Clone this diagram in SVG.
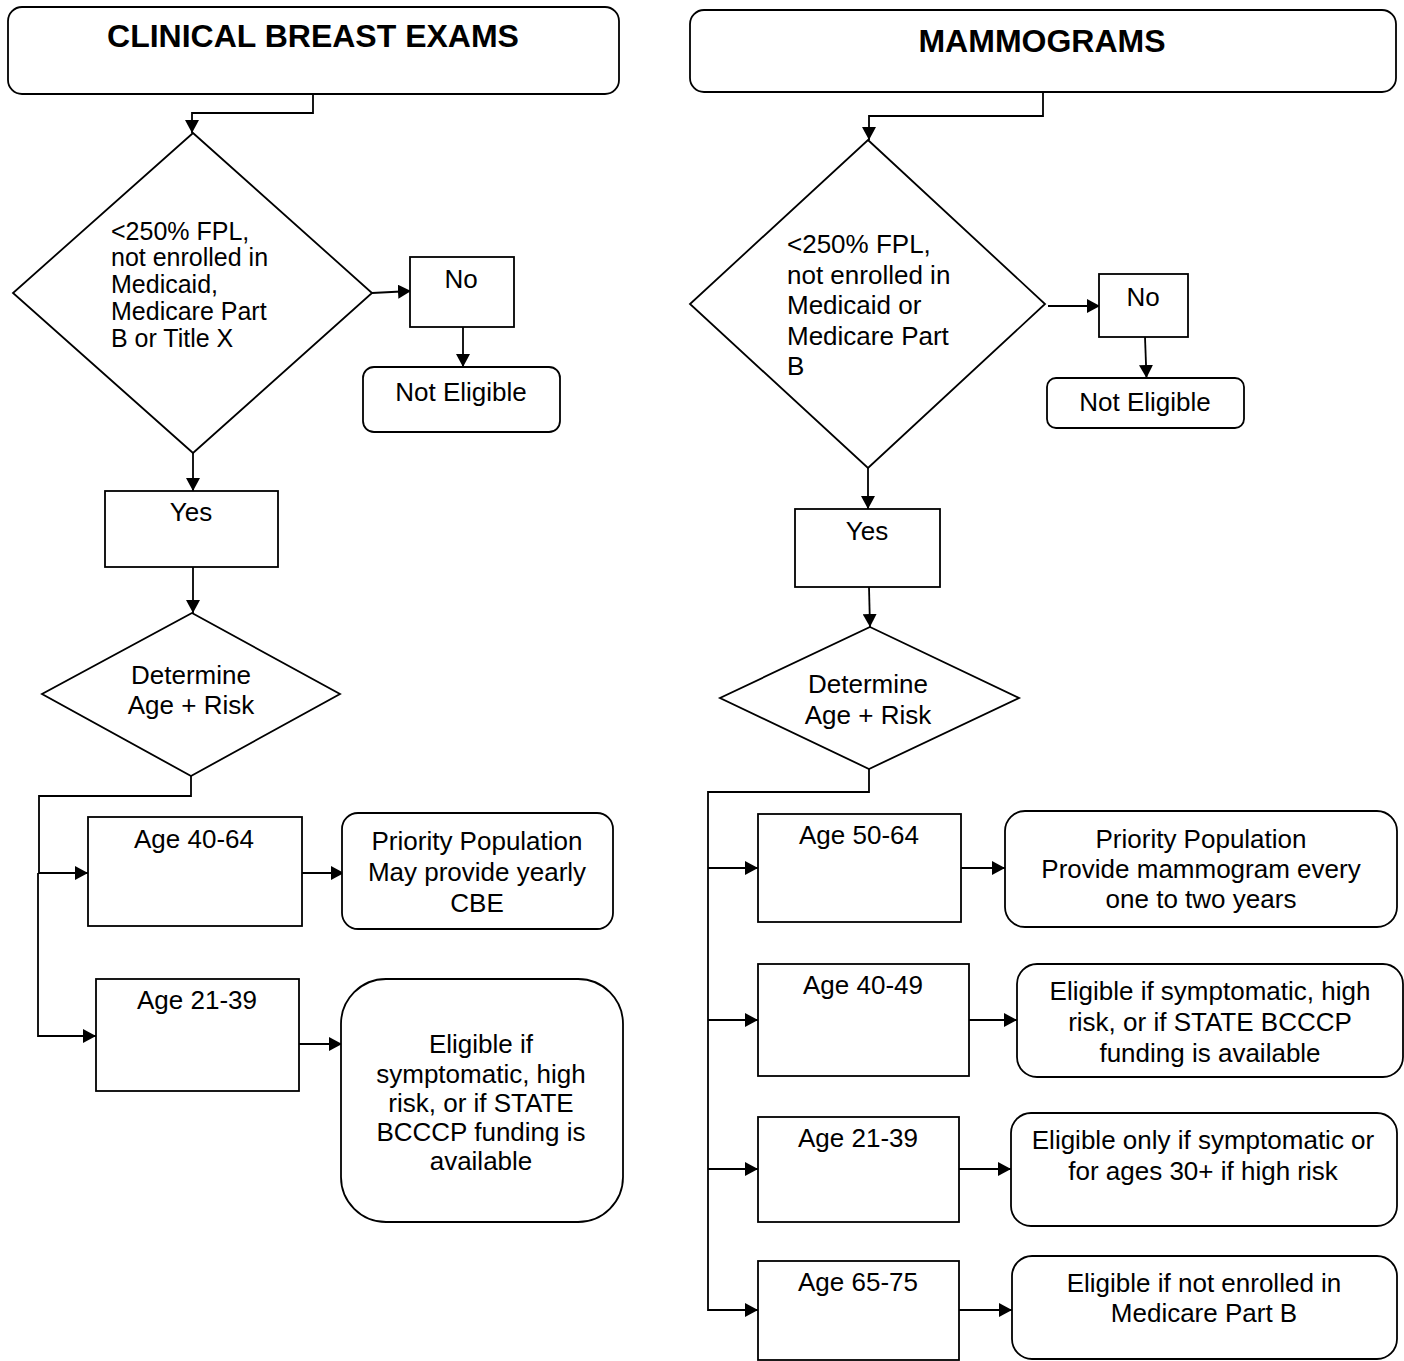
<svg xmlns="http://www.w3.org/2000/svg" width="1404" height="1361" viewBox="0 0 1404 1361">
<style>
.box{fill:#fff;stroke:#000;stroke-width:1.8}
.ln{fill:none;stroke:#000;stroke-width:1.8}
.t{font-family:"Liberation Sans",Arial,sans-serif;font-size:26px;fill:#000}
.s{font-size:25px}
.c{text-anchor:middle}
.h{font-family:"Liberation Sans",Arial,sans-serif;font-size:32px;font-weight:bold;text-anchor:middle;fill:#000}
</style>
<defs>
<marker id="ah" markerUnits="userSpaceOnUse" markerWidth="14" markerHeight="14" refX="13" refY="7" orient="auto">
<path d="M0,0 L13,7 L0,14 z" fill="#000"/>
</marker>
</defs>
<rect width="1404" height="1361" fill="#fff"/>

<g id="connectors">
<path class="ln" marker-end="url(#ah)" d="M313,94 V113 H192 V133"/>
<path class="ln" marker-end="url(#ah)" d="M372,293 L411,291"/>
<path class="ln" marker-end="url(#ah)" d="M463,327 V367"/>
<path class="ln" marker-end="url(#ah)" d="M193,453 V491"/>
<path class="ln" marker-end="url(#ah)" d="M193,567 V613"/>
<path class="ln" marker-end="url(#ah)" d="M191,776 V796 H39 V873 H88"/>
<path class="ln" marker-end="url(#ah)" d="M38,873 V1036 H96"/>
<path class="ln" marker-end="url(#ah)" d="M302,873 H344"/>
<path class="ln" marker-end="url(#ah)" d="M299,1044 H342"/>

<path class="ln" marker-end="url(#ah)" d="M1043,92 V116 H869 V140"/>
<path class="ln" marker-end="url(#ah)" d="M1048,306 H1100"/>
<path class="ln" marker-end="url(#ah)" d="M1145,337 L1146.5,378"/>
<path class="ln" marker-end="url(#ah)" d="M868,468 V509"/>
<path class="ln" marker-end="url(#ah)" d="M869,587 L870,627"/>
<path class="ln" marker-end="url(#ah)" d="M869,769 V792 H708 V1310 H758"/>
<path class="ln" marker-end="url(#ah)" d="M708,868 H758"/>
<path class="ln" marker-end="url(#ah)" d="M708,1020 H758"/>
<path class="ln" marker-end="url(#ah)" d="M708,1169 H758"/>
<path class="ln" marker-end="url(#ah)" d="M961,868 H1005"/>
<path class="ln" marker-end="url(#ah)" d="M969,1020 H1017"/>
<path class="ln" marker-end="url(#ah)" d="M959,1169 H1011"/>
<path class="ln" marker-end="url(#ah)" d="M959,1310 H1012"/>
</g>

<g id="cbe-header">
<rect class="box" x="8" y="7" width="611" height="87" rx="14"/>
<text class="h" x="313" y="47">CLINICAL BREAST EXAMS</text>
</g>
<g id="cbe-eligibility">
<polygon class="box" points="193,133 372,293 193,453 13,293"/>
<text class="t s"><tspan x="111" y="240">&lt;250% FPL,</tspan><tspan x="111" y="266">not enrolled in</tspan><tspan x="111" y="293">Medicaid,</tspan><tspan x="111" y="320">Medicare Part</tspan><tspan x="111" y="347">B or Title X</tspan></text>
</g>
<g id="cbe-no">
<rect class="box" x="410" y="257" width="104" height="70"/>
<text class="t c" x="461" y="288">No</text>
</g>
<g id="cbe-not-eligible">
<rect class="box" x="363" y="367" width="197" height="65" rx="11"/>
<text class="t c" x="461" y="401">Not Eligible</text>
</g>
<g id="cbe-yes">
<rect class="box" x="105" y="491" width="173" height="76"/>
<text class="t c" x="191" y="521">Yes</text>
</g>
<g id="cbe-age-risk">
<polygon class="box" points="192,613 340,694 191,776 42,694"/>
<text class="t c" x="191" y="684">Determine</text>
<text class="t c" x="191" y="714">Age + Risk</text>
</g>
<g id="cbe-age-40-64">
<rect class="box" x="88" y="817" width="214" height="109"/>
<text class="t c" x="194" y="848">Age 40-64</text>
</g>
<g id="cbe-priority">
<rect class="box" x="342" y="813" width="271" height="116" rx="16"/>
<text class="t c" x="477" y="850">Priority Population</text>
<text class="t c" x="477" y="881">May provide yearly</text>
<text class="t c" x="477" y="912">CBE</text>
</g>
<g id="cbe-age-21-39">
<rect class="box" x="96" y="979" width="203" height="112"/>
<text class="t c" x="197" y="1009">Age 21-39</text>
</g>
<g id="cbe-eligible-if">
<rect class="box" x="341" y="979" width="282" height="243" rx="45"/>
<text class="t c" x="481" y="1053">Eligible if</text>
<text class="t c" x="481" y="1083">symptomatic, high</text>
<text class="t c" x="481" y="1112">risk, or if STATE</text>
<text class="t c" x="481" y="1141">BCCCP funding is</text>
<text class="t c" x="481" y="1170">available</text>
</g>

<g id="mam-header">
<rect class="box" x="690" y="10" width="706" height="82" rx="14"/>
<text class="h" x="1042" y="52">MAMMOGRAMS</text>
</g>
<g id="mam-eligibility">
<polygon class="box" points="868,140 1045,304 868,468 690,304"/>
<text class="t"><tspan x="787" y="253">&lt;250% FPL,</tspan><tspan x="787" y="284">not enrolled in</tspan><tspan x="787" y="314">Medicaid or</tspan><tspan x="787" y="345">Medicare Part</tspan><tspan x="787" y="375">B</tspan></text>
</g>
<g id="mam-no">
<rect class="box" x="1099" y="274" width="89" height="63"/>
<text class="t c" x="1143" y="306">No</text>
</g>
<g id="mam-not-eligible">
<rect class="box" x="1047" y="378" width="197" height="50" rx="9"/>
<text class="t c" x="1145" y="411">Not Eligible</text>
</g>
<g id="mam-yes">
<rect class="box" x="795" y="509" width="145" height="78"/>
<text class="t c" x="867" y="540">Yes</text>
</g>
<g id="mam-age-risk">
<polygon class="box" points="870,627 1019,698 869,769 720,698"/>
<text class="t c" x="868" y="693">Determine</text>
<text class="t c" x="868" y="724">Age + Risk</text>
</g>
<g id="mam-age-50-64">
<rect class="box" x="758" y="814" width="203" height="108"/>
<text class="t c" x="859" y="844">Age 50-64</text>
</g>
<g id="mam-priority">
<rect class="box" x="1005" y="811" width="392" height="116" rx="20"/>
<text class="t c" x="1201" y="848">Priority Population</text>
<text class="t c" x="1201" y="878">Provide mammogram every</text>
<text class="t c" x="1201" y="908">one to two years</text>
</g>
<g id="mam-age-40-49">
<rect class="box" x="758" y="964" width="211" height="112"/>
<text class="t c" x="863" y="994">Age 40-49</text>
</g>
<g id="mam-eligible-40-49">
<rect class="box" x="1017" y="964" width="386" height="113" rx="20"/>
<text class="t c" x="1210" y="1000">Eligible if symptomatic, high</text>
<text class="t c" x="1210" y="1031">risk, or if STATE BCCCP</text>
<text class="t c" x="1210" y="1062">funding is available</text>
</g>
<g id="mam-age-21-39">
<rect class="box" x="758" y="1117" width="201" height="105"/>
<text class="t c" x="858" y="1147">Age 21-39</text>
</g>
<g id="mam-eligible-21-39">
<rect class="box" x="1011" y="1113" width="386" height="113" rx="20"/>
<text class="t c" x="1203" y="1149">Eligible only if symptomatic or</text>
<text class="t c" x="1203" y="1180">for ages 30+ if high risk</text>
</g>
<g id="mam-age-65-75">
<rect class="box" x="758" y="1261" width="201" height="99"/>
<text class="t c" x="858" y="1291">Age 65-75</text>
</g>
<g id="mam-eligible-65-75">
<rect class="box" x="1012" y="1256" width="385" height="103" rx="20"/>
<text class="t c" x="1204" y="1292">Eligible if not enrolled in</text>
<text class="t c" x="1204" y="1322">Medicare Part B</text>
</g>
</svg>
